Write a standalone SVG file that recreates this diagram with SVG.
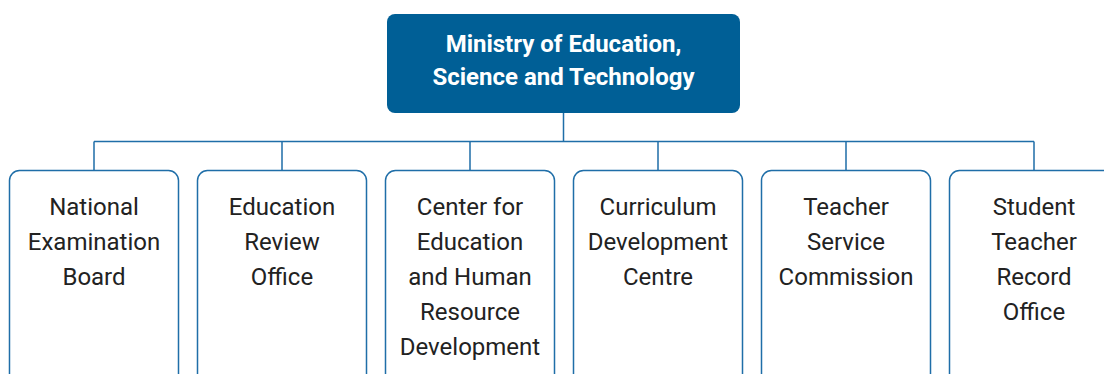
<svg xmlns="http://www.w3.org/2000/svg" width="1104" height="374" viewBox="0 0 1104 374">
<style>
.top{fill:#005f96;}
.box{fill:#ffffff;stroke:#1f6ea8;stroke-width:1.5;}
.conn{fill:none;stroke:#1f6ea8;stroke-width:1.5;}
.tt{font-family:Roboto,"Liberation Sans",sans-serif;font-weight:bold;font-size:24px;fill:#ffffff;text-anchor:middle;}
.ct{font-family:Roboto,"Liberation Sans",sans-serif;font-size:24px;fill:#222222;text-anchor:middle;}
</style>
<rect width="1104" height="374" fill="#ffffff"/>
<g id="connectors">
<path class="conn" d="M563.5 113V141.5M94 141.5H1034M94 141.5V170M282 141.5V170M470 141.5V170M658 141.5V170M846 141.5V170M1034 141.5V170"/>
</g>
<g id="ministry">
<rect class="top" x="387" y="14" width="353" height="99" rx="8"/>
<text class="tt" x="563.5" y="52">Ministry of Education,</text>
<text class="tt" x="563.5" y="85">Science and Technology</text>
</g>
<g id="neb">
<rect class="box" x="9.5" y="170.5" width="169" height="230" rx="10"/>
<text class="ct" x="94" y="215">National</text>
<text class="ct" x="94" y="250">Examination</text>
<text class="ct" x="94" y="285">Board</text>
</g>
<g id="ero">
<rect class="box" x="197.5" y="170.5" width="169" height="230" rx="10"/>
<text class="ct" x="282" y="215">Education</text>
<text class="ct" x="282" y="250">Review</text>
<text class="ct" x="282" y="285">Office</text>
</g>
<g id="cehrd">
<rect class="box" x="385.5" y="170.5" width="169" height="230" rx="10"/>
<text class="ct" x="470" y="215">Center for</text>
<text class="ct" x="470" y="250">Education</text>
<text class="ct" x="470" y="285">and Human</text>
<text class="ct" x="470" y="320">Resource</text>
<text class="ct" x="470" y="355">Development</text>
</g>
<g id="cdc">
<rect class="box" x="573.5" y="170.5" width="169" height="230" rx="10"/>
<text class="ct" x="658" y="215">Curriculum</text>
<text class="ct" x="658" y="250">Development</text>
<text class="ct" x="658" y="285">Centre</text>
</g>
<g id="tsc">
<rect class="box" x="761.5" y="170.5" width="169" height="230" rx="10"/>
<text class="ct" x="846" y="215">Teacher</text>
<text class="ct" x="846" y="250">Service</text>
<text class="ct" x="846" y="285">Commission</text>
</g>
<g id="stro">
<rect class="box" x="949.5" y="170.5" width="169" height="230" rx="10"/>
<text class="ct" x="1034" y="215">Student</text>
<text class="ct" x="1034" y="250">Teacher</text>
<text class="ct" x="1034" y="285">Record</text>
<text class="ct" x="1034" y="320">Office</text>
</g>
</svg>
